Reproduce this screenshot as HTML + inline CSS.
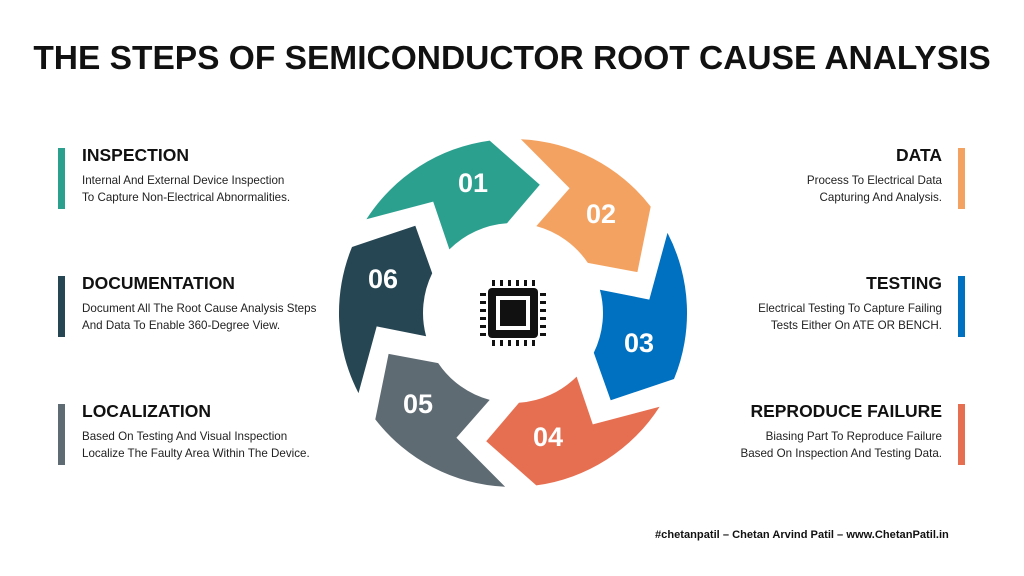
<!DOCTYPE html>
<html><head><meta charset="utf-8"><style>
body{margin:0;width:1024px;height:576px;background:#fff;font-family:"Liberation Sans",sans-serif;position:relative;overflow:hidden}
.t{position:absolute;left:0;width:1024px;top:40px;text-align:center;font-weight:bold;font-size:33.5px;color:#111}
.bar{position:absolute;width:7px;height:61px}
.h{position:absolute;font-weight:bold;font-size:17.5px;color:#111}
.d{position:absolute;font-size:11.6px;line-height:17px;color:#222}
.r{text-align:right}
.f{position:absolute;left:655px;top:529px;font-size:11.1px;font-weight:bold;color:#111}
</style></head><body>
<div class="t">THE STEPS OF SEMICONDUCTOR ROOT CAUSE ANALYSIS</div>

<div class="bar" style="left:58px;top:148px;background:#2CA08F"></div>
<div class="h" style="left:82px;top:145px">INSPECTION</div>
<div class="d" style="left:82px;top:172px">Internal And External Device Inspection<br>To Capture Non-Electrical Abnormalities.</div>

<div class="bar" style="left:58px;top:276px;background:#264653"></div>
<div class="h" style="left:82px;top:273px">DOCUMENTATION</div>
<div class="d" style="left:82px;top:300px">Document All The Root Cause Analysis Steps<br>And Data To Enable 360-Degree View.</div>

<div class="bar" style="left:58px;top:404px;background:#5F6B73"></div>
<div class="h" style="left:82px;top:401px">LOCALIZATION</div>
<div class="d" style="left:82px;top:428px">Based On Testing And Visual Inspection<br>Localize The Faulty Area Within The Device.</div>

<div class="bar" style="left:958px;top:148px;background:#F4A261"></div>
<div class="h r" style="right:82px;top:145px">DATA</div>
<div class="d r" style="right:82px;top:172px">Process To Electrical Data<br>Capturing And Analysis.</div>

<div class="bar" style="left:958px;top:276px;background:#0070C0"></div>
<div class="h r" style="right:82px;top:273px">TESTING</div>
<div class="d r" style="right:82px;top:300px">Electrical Testing To Capture Failing<br>Tests Either On ATE OR BENCH.</div>

<div class="bar" style="left:958px;top:404px;background:#E76F51"></div>
<div class="h r" style="right:82px;top:401px">REPRODUCE FAILURE</div>
<div class="d r" style="right:82px;top:428px">Biasing Part To Reproduce Failure<br>Based On Inspection And Testing Data.</div>

<div class="f">#chetanpatil – Chetan Arvind Patil – www.ChetanPatil.in</div>

<svg id="s" width="1024" height="576" style="position:absolute;left:0;top:0">
<g id="g"></g>
<g fill="#111">
<rect x="488" y="288" width="50" height="50" rx="4"/>
<rect x="496" y="296" width="34" height="34" fill="#fff"/>
<rect x="500" y="300" width="26" height="26"/>
</g>
<g id="pins" fill="#111"></g>
<g font-family="Liberation Sans" font-weight="bold" font-size="27" fill="#fff" text-anchor="middle">
<text x="473" y="192">01</text><text x="601" y="223">02</text><text x="639" y="352">03</text>
<text x="548" y="446">04</text><text x="418" y="413">05</text><text x="383" y="288">06</text>
</g>
</svg>
<script>
var cx=513,cy=313,Ro=174,Ri=90,Rm=131,Rn=137;
var cols=["#2CA08F","#F4A261","#0070C0","#E76F51","#5F6B73","#264653"];
function p(r,a){a=a*Math.PI/180;return (cx+r*Math.cos(a)).toFixed(1)+","+(cy+r*Math.sin(a)).toFixed(1);}
var h="";
for(var k=0;k<6;k++){var t=212.6+60*k;
var d="M"+p(Ro,t)+" A"+Ro+","+Ro+" 0 0 1 "+p(Ro,t+49.7)+" L"+p(Rm,t+69.2)+" L"+p(Ri,t+53.6)+" A"+Ri+","+Ri+" 0 0 0 "+p(Ri,t+12.4)+" L"+p(Rn,t+21.8)+" Z";
h+='<path d="'+d+'" fill="'+cols[k]+'"/>';}
document.getElementById("g").innerHTML=h;
var q="";
for(var i=0;i<6;i++){var o=492+i*8;
q+='<rect x="'+o+'" y="280" width="3" height="6"/><rect x="'+o+'" y="340" width="3" height="6"/>';
q+='<rect x="480" y="'+(o-199)+'" width="6" height="3"/><rect x="540" y="'+(o-199)+'" width="6" height="3"/>';}
document.getElementById("pins").innerHTML=q;
</script>
</body></html>
